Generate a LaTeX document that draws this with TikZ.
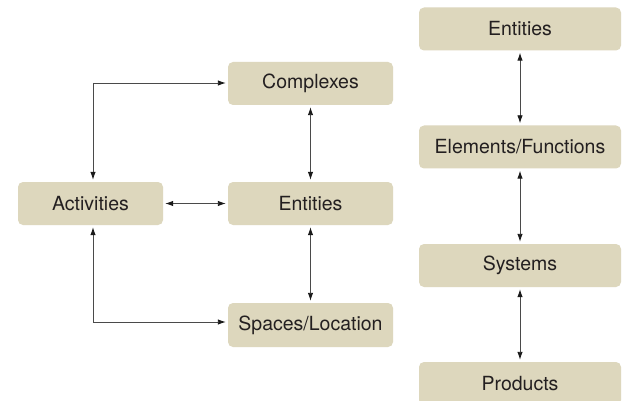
\documentclass[tikz,border=0pt]{standalone}
\usepackage{fontspec}
\setmainfont{TeX Gyre Heros}
\usetikzlibrary{arrows.meta}
\definecolor{boxfill}{HTML}{DDD7BD}
\definecolor{txt}{HTML}{231F20}
\definecolor{ln}{HTML}{4A4A4A}
\definecolor{tip}{HTML}{1A1A1A}
\begin{document}
\begin{tikzpicture}[x=1pt,y=-1pt,
  box/.style={fill=boxfill,rounded corners=5pt,minimum height=43pt,inner sep=0pt,
    text=txt,font=\fontsize{19.5}{23}\selectfont},
  lbox/.style={box,minimum width=165pt},
  rbox/.style={box,minimum width=202pt},
  conn/.style={draw=ln,line width=0.9pt,{Latex[length=8pt,width=5.5pt,color=tip]}-{Latex[length=8pt,width=5.5pt,color=tip]},shorten <=2pt,shorten >=2pt},
  oneway/.style={draw=ln,line width=0.9pt,-{Latex[length=8pt,width=5.5pt,color=tip]},shorten >=2pt}]
\useasboundingbox[fill=white] (0,0) rectangle (632,401);
\begin{scope}
\clip (0,0) rectangle (632,401);
\node[lbox] (cx) at (310.5,83.5) {Complexes};
\node[lbox] (enl) at (310.5,203.5) {Entities};
\node[box,minimum width=145pt] (act) at (90.5,203.5) {Activities};
\node[lbox,minimum height=44pt] (sp) at (310.5,325) {Spaces/Location};
\node[rbox] (enr) at (520,29) {Entities};
\node[rbox] (el) at (520,147) {Elements/Functions};
\node[rbox] (sy) at (520,265.5) {Systems};
\node[rbox] (pr) at (520,383.5) {Products};
\end{scope}
\coordinate (c1) at (93,83);
\coordinate (c2) at (93,322);
\draw[oneway] (c1) -- (cx.west |- c1);
\draw[oneway] (c1) -- (act.north -| c1);
\draw[oneway] (c2) -- (sp.west |- c2);
\draw[oneway] (c2) -- (act.south -| c2);
\draw[conn] (act.east) -- (enl.west);
\draw[conn] (cx.south) -- (enl.north);
\draw[conn] (enl.south) -- (sp.north);
\draw[conn] (enr.south) -- (el.north);
\draw[conn] (el.south) -- (sy.north);
\draw[conn] (sy.south) -- (pr.north);
\end{tikzpicture}
\end{document}
